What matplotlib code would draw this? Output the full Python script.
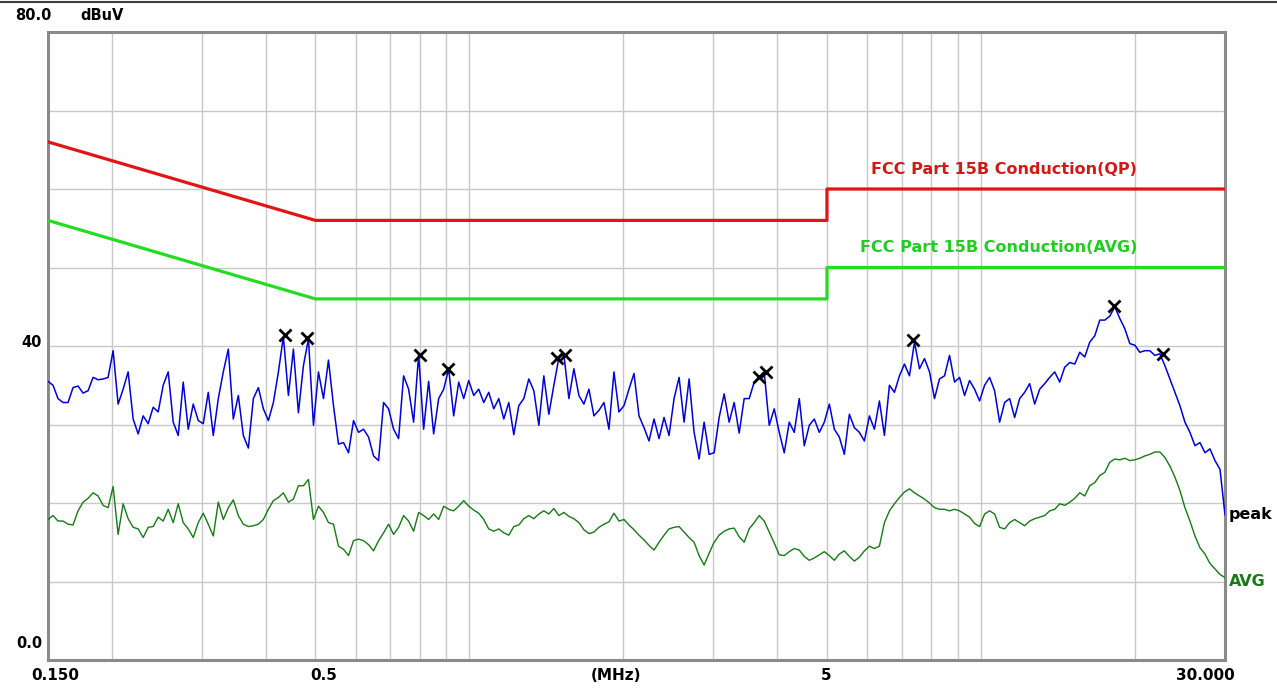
import numpy as np
import matplotlib
matplotlib.use("Agg")
import matplotlib.pyplot as plt
from matplotlib.lines import Line2D

# limit lines (MHz, dBuV)
qp_freq = [0.15, 0.5, 5.0, 5.0, 30.0]
qp_level = [66, 56, 56, 60, 60]
avg_freq = [0.15, 0.5, 5.0, 5.0, 30.0]
avg_level = [56, 46, 46, 50, 50]

peak = [
    35.5, 35.0, 33.3, 32.8, 32.8, 34.7, 34.9, 34.0, 34.3, 36.0,
    35.7, 35.8, 36.0, 39.4, 32.6, 34.5, 36.7, 30.7, 28.8, 31.1,
    30.1, 32.2, 31.6, 35.0, 36.7, 30.3, 28.6, 35.4, 29.4, 32.6,
    30.5, 30.1, 34.1, 28.6, 33.3, 36.7, 39.6, 30.7, 33.7, 28.6,
    27.0, 33.3, 34.7, 32.0, 30.5, 32.8, 36.7, 41.2, 33.7, 39.6,
    31.5, 37.5, 40.9, 29.9, 36.7, 33.3, 38.2, 32.4, 27.5, 27.7,
    26.4, 30.5, 29.0, 29.4, 28.4, 26.0, 25.4, 32.8, 32.0, 29.4,
    28.2, 36.2, 34.5, 30.3, 38.9, 29.4, 35.5, 28.8, 33.3, 34.5,
    37.1, 31.1, 35.4, 33.3, 35.6, 33.7, 34.5, 32.8, 34.1, 32.0,
    33.3, 30.7, 32.8, 28.7, 32.4, 33.3, 35.8, 34.3, 29.9, 36.2,
    31.3, 35.0, 38.5, 38.9, 33.3, 37.1, 33.7, 32.6, 34.5, 31.1,
    31.8, 32.8, 29.4, 36.7, 31.6, 32.4, 34.5, 36.5, 31.1, 29.6,
    27.9, 30.7, 28.2, 30.9, 28.6, 33.3, 36.0, 30.3, 35.8, 29.0,
    25.6, 30.3, 26.2, 26.4, 30.9, 33.9, 30.3, 32.8, 28.9, 33.3,
    33.3, 35.4, 36.1, 36.7, 29.9, 32.0, 29.0, 26.4, 30.3, 29.0,
    33.3, 27.3, 29.9, 30.7, 29.0, 30.3, 32.6, 29.4, 28.4, 26.2,
    31.3, 29.6, 29.0, 27.9, 31.1, 29.4, 33.0, 28.6, 35.0, 34.1,
    36.2, 37.7, 36.2, 40.5, 37.1, 38.4, 36.7, 33.3, 35.8, 36.2,
    38.8, 35.4, 36.0, 33.7, 35.6, 34.5, 33.0, 35.0, 36.0, 34.3,
    30.3, 32.8, 33.3, 30.9, 33.3, 34.1, 35.2, 32.6, 34.5, 35.2,
    36.0, 36.7, 35.4, 37.3, 37.9, 37.7, 39.2, 38.6, 40.5, 41.3,
    43.3, 43.3, 43.8, 45.0, 43.5, 42.2, 40.3, 40.1, 39.2, 39.4,
    39.4, 38.8, 39.0, 37.5, 35.8, 34.1, 32.4, 30.3, 29.0, 27.3,
    27.7, 26.4, 26.9, 25.4, 24.3, 18.5,
]

# measured average trace on the same sweep points
average = [
    17.9, 18.4, 17.7, 17.7, 17.3, 17.2, 19.0, 20.1, 20.6, 21.3,
    20.9, 19.7, 19.4, 22.1, 16.0, 19.9, 18.0, 16.9, 16.7, 15.6,
    16.9, 17.0, 18.2, 17.7, 19.2, 17.5, 19.9, 17.5, 16.7, 15.6,
    17.5, 18.7, 17.3, 15.8, 20.1, 17.9, 19.4, 20.4, 18.4, 17.3,
    17.0, 17.1, 17.3, 17.9, 19.2, 20.3, 20.7, 21.3, 20.1, 20.5,
    22.2, 22.2, 23.0, 17.9, 19.6, 18.8, 17.5, 17.3, 14.5, 14.1,
    13.3, 15.2, 15.4, 15.2, 14.7, 13.9, 15.2, 16.2, 17.3, 16.0,
    16.9, 18.4, 17.7, 16.4, 18.8, 18.4, 17.9, 18.6, 17.9, 19.6,
    19.2, 19.0, 19.6, 20.3, 19.6, 19.1, 18.7, 17.9, 16.7, 16.4,
    16.7, 16.2, 15.9, 17.0, 17.2, 18.0, 18.4, 18.0, 18.6, 19.0,
    18.6, 19.3, 18.4, 18.8, 18.3, 18.0, 17.5, 16.6, 16.1, 16.3,
    16.9, 17.3, 17.6, 18.7, 17.7, 17.9, 17.2, 16.6, 15.9, 15.3,
    14.6, 14.0, 15.0, 15.9, 16.7, 16.9, 17.0, 16.3, 15.6, 15.0,
    13.3, 12.1, 13.6, 15.0, 15.9, 16.4, 16.7, 16.8, 15.7, 15.0,
    16.7, 17.5, 18.4, 17.7, 16.3, 14.9, 13.4, 13.3, 13.8, 14.2,
    14.0, 13.2, 12.7, 13.0, 13.4, 13.8, 13.3, 12.7, 13.5, 13.9,
    13.2, 12.6, 13.1, 13.9, 14.5, 14.2, 14.5, 17.5, 19.0, 19.9,
    20.7, 21.4, 21.8, 21.3, 20.9, 20.5, 20.0, 19.4, 19.2, 19.2,
    19.0, 19.2, 19.0, 18.6, 18.2, 17.4, 17.0, 18.6, 19.0, 18.6,
    16.9, 16.7, 17.5, 17.9, 17.5, 17.1, 17.7, 18.0, 18.2, 18.4,
    19.0, 19.2, 19.9, 19.7, 20.1, 20.6, 21.3, 20.9, 22.2, 22.6,
    23.5, 23.9, 25.2, 25.6, 25.5, 25.7, 25.4, 25.5, 25.7, 26.0,
    26.2, 26.5, 26.5, 25.8, 24.7, 23.3, 21.6, 19.4, 17.7, 15.8,
    14.3, 13.5, 12.3, 11.6, 10.9, 10.5,
]

# marked peaks
mark_freq = [0.436, 0.481, 0.80, 0.908, 1.48, 1.54, 3.68, 3.80, 7.37, 18.2, 22.7]
mark_level = [41.4, 41.0, 38.9, 37.1, 38.5, 38.9, 36.1, 36.7, 40.8, 45.1, 39.0]

freq = np.geomspace(0.15, 30.0, len(peak))

W, H = 1277, 690
fig = plt.figure(figsize=(W / 100, H / 100), dpi=100)
fig.patch.set_facecolor("white")
ax = fig.add_axes([48 / W, 30 / H, 1177 / W, 628 / H])

ax.set_xscale("log")
ax.set_xlim(0.15, 30)
ax.set_ylim(0, 80)

grid_x = [0.2, 0.3, 0.4, 0.5, 0.6, 0.7, 0.8, 0.9, 1, 2, 3, 4, 5, 6, 7, 8, 9, 10, 20]
for gx in grid_x:
    ax.axvline(gx, color="#c8c8c8", lw=1.0, zorder=0)
for gy in range(10, 80, 10):
    ax.axhline(gy, color="#c8c8c8", lw=1.0, zorder=0)

ax.set_xticks([])
ax.set_yticks([])
ax.minorticks_off()
ax.tick_params(which="both", length=0, labelbottom=False, labelleft=False)
for s in ax.spines.values():
    s.set_color("#8a8a8a")
    s.set_linewidth(2.2)

ax.plot(qp_freq, qp_level, color="#e01515", lw=2.3, zorder=3)
ax.plot(avg_freq, avg_level, color="#22dd22", lw=2.3, zorder=3)
ax.plot(freq, average, color="#167a16", lw=1.0, zorder=4)
ax.plot(freq, peak, color="#0000d8", lw=1.1, zorder=5)
ax.plot(mark_freq, mark_level, ls="none", marker="x", color="black",
        ms=8, mew=2.0, zorder=6)

bold = dict(fontweight="bold", family="DejaVu Sans")
fig.text(1137 / W, 1 - 170 / H, "FCC Part 15B Conduction(QP)", color="#d41818",
         fontsize=11.5, ha="right", va="center", **bold)
fig.text(1137 / W, 1 - 248 / H, "FCC Part 15B Conduction(AVG)", color="#22cc22",
         fontsize=11.5, ha="right", va="center", **bold)

fig.text(1229 / W, 1 - 514 / H, "peak", color="black", fontsize=11.5,
         ha="left", va="center", **bold)
fig.text(1229 / W, 1 - 582 / H, "AVG", color="#167a16", fontsize=11.5,
         ha="left", va="center", **bold)

# axis labels drawn as in the receiver software
fig.text(52 / W, 1 - 16 / H, "80.0", fontsize=10.5, ha="right", va="center", **bold)
fig.text(80 / W, 1 - 16 / H, "dBuV", fontsize=10.5, ha="left", va="center", **bold)
fig.text(42 / W, 1 - 343 / H, "40", fontsize=10.5, ha="right", va="center", **bold)
fig.text(42 / W, 1 - 643 / H, "0.0", fontsize=10.5, ha="right", va="center", **bold)

fig.text(55 / W, 1 - 676 / H, "0.150", fontsize=11, ha="center", va="center", **bold)
fig.text(324 / W, 1 - 676 / H, "0.5", fontsize=11, ha="center", va="center", **bold)
fig.text(616 / W, 1 - 676 / H, "(MHz)", fontsize=11, ha="center", va="center", **bold)
fig.text(826 / W, 1 - 676 / H, "5", fontsize=11, ha="center", va="center", **bold)
fig.text(1205 / W, 1 - 676 / H, "30.000", fontsize=11, ha="center", va="center", **bold)

fig.add_artist(Line2D([0, 1], [1 - 2 / H, 1 - 2 / H], color="#404040", lw=1.5))

fig.savefig("out.png", dpi=100)
